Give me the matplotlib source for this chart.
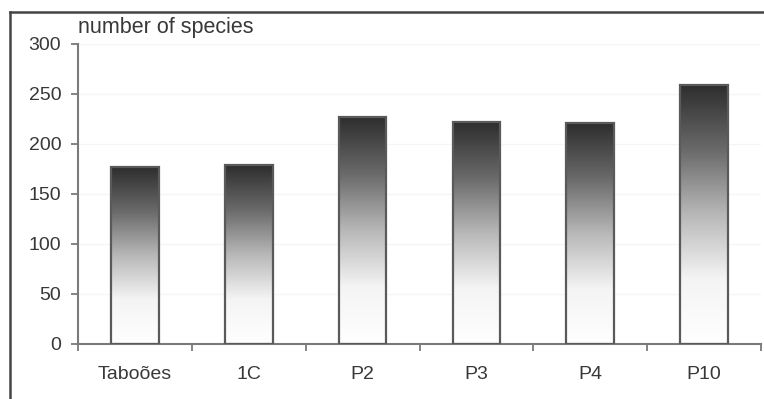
import matplotlib
matplotlib.use("Agg")
import matplotlib.pyplot as plt
import numpy as np
from matplotlib.patches import Rectangle
from matplotlib.lines import Line2D
from matplotlib.colors import LinearSegmentedColormap

plt.rcParams['font.family'] = ['Liberation Sans', 'DejaVu Sans']

# data
sites = ['Taboões', '1C', 'P2', 'P3', 'P4', 'P10']
species = [177, 179, 227, 222, 221, 259]
yticks = [0, 50, 100, 150, 200, 250, 300]

fig = plt.figure(figsize=(7.64, 3.99), dpi=100)
ax = fig.add_axes([78/764, 55/399, 683/764, 300/399])

# dark top -> white bottom
cmap = LinearSegmentedColormap.from_list('grad', ['#ffffff', '#f4f4f4', '#b8b8b8', '#6a6a6a', '#2e2e2e'])
grad = np.linspace(0, 1, 256).reshape(-1, 1)
width = 0.42

x = np.arange(len(sites))
for xi, v in zip(x, species):
    rect = Rectangle((xi - width/2, 0), width, v, facecolor='none',
                     edgecolor='#5a5a5a', linewidth=1.6, zorder=3)
    ax.add_patch(rect)
    im = ax.imshow(grad, cmap=cmap, aspect='auto', origin='lower',
                   extent=(xi - width/2, xi + width/2, 0, v), zorder=2)
    im.set_clip_path(rect)

ax.set_xlim(-0.5, len(sites) - 0.5)
ax.set_ylim(0, 300)

for s in ['top', 'right']:
    ax.spines[s].set_visible(False)
for s in ['left', 'bottom']:
    ax.spines[s].set_color('#7a7a7a')
    ax.spines[s].set_linewidth(1.5)

ax.set_yticks(yticks)
ax.tick_params(axis='y', direction='out', length=5, width=1.3, color='#7a7a7a',
               labelsize=14, labelcolor='#383838', pad=7)
ax.set_xticks(x)
ax.set_xticklabels(sites)
ax.tick_params(axis='x', which='major', length=0, labelsize=14, labelcolor='#383838', pad=16)
ax.set_xticks(np.arange(-0.5, len(sites)), minor=True)
ax.tick_params(axis='x', which='minor', direction='out', length=5, width=1.3, color='#7a7a7a')

ax.yaxis.grid(True, color='#f5f5f5', linewidth=1)
ax.set_axisbelow(True)

fig.text(78/764, (399 - 33)/399, 'number of species', fontsize=15.5,
         color='#383838', va='baseline', ha='left')

# outer frame (top and left)
fig.add_artist(Line2D([9.5/764, 1.0], [387/399, 387/399], color='#444444', linewidth=1.8))
fig.add_artist(Line2D([9.5/764, 9.5/764], [0, 387/399], color='#444444', linewidth=1.8))

fig.savefig('out.png', dpi=100)
